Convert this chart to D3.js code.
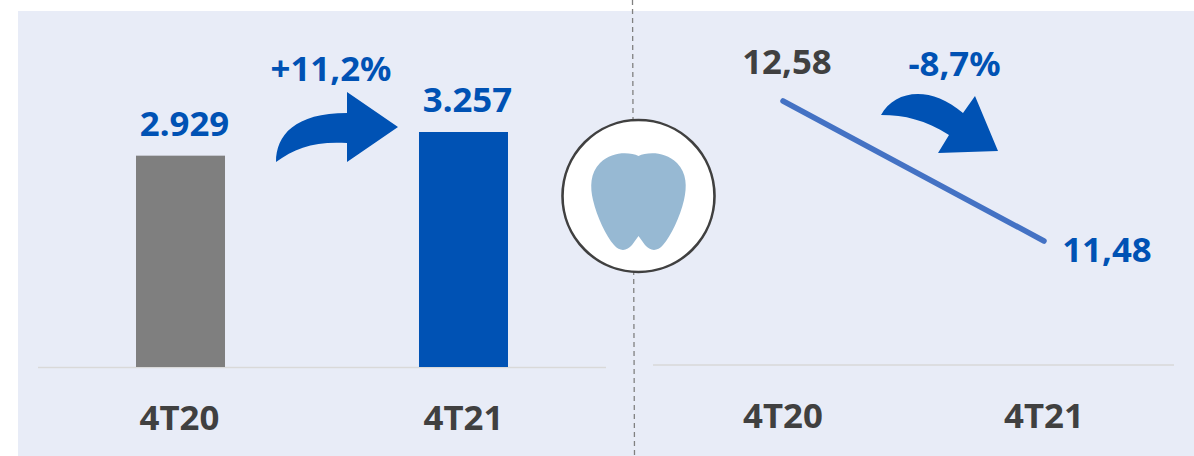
<!DOCTYPE html>
<html><head><meta charset="utf-8">
<script src="https://cdn.jsdelivr.net/npm/d3@7"></script>
<style>html,body{margin:0;padding:0;background:#fff}svg{display:block}text{font-family:"Noto Sans",sans-serif;font-weight:700}</style>
</head><body><div id="c"></div>
<script>
const periods=["4T20","4T21"];
const volume=[2929,3257];
const volumeLabels=["2.929","3.257"];
const ticket=[12.58,11.48];
const ticketLabels=["12,58","11,48"];
const changes=["+11,2%","-8,7%"];
const W=1194,H=456,BLUE="#0052b4",DARK="#404040",FS=34.8;
const svg=d3.select("#c").append("svg").attr("width",W).attr("height",H);
svg.append("rect").attr("x",18).attr("y",11).attr("width",W-18).attr("height",H-11).attr("fill","#e8ecf7");
svg.append("line").attr("x1",632.5).attr("y1",0).attr("x2",634.5).attr("y2",456).attr("stroke","#808080").attr("stroke-width",1.3).attr("stroke-dasharray","5 4");

// left chart
const x1=d3.scaleBand().domain(periods).range([39,605]).paddingInner(0.6855).paddingOuter(0.3428);
const y1=d3.scaleLinear().domain([0,3257]).range([367,132]);
svg.append("line").attr("x1",38).attr("x2",606).attr("y1",367.5).attr("y2",367.5).attr("stroke","#d9d9d9").attr("stroke-width",1.5);
svg.selectAll(".bar").data(periods).join("rect").attr("class","bar")
 .attr("x",d=>x1(d)).attr("width",x1.bandwidth())
 .attr("y",(d,i)=>y1(volume[i])).attr("height",(d,i)=>y1(0)-y1(volume[i]))
 .attr("fill",(d,i)=>i?BLUE:"#7f7f7f");
const mid1=d=>x1(d)+x1.bandwidth()/2;
function txt(x,y,s,fill){return svg.append("text").attr("x",x).attr("y",y).attr("text-anchor","middle").attr("font-size",FS).attr("fill",fill).text(s);}
periods.forEach((p,i)=>{
 txt(mid1(p)+4,i?112:136,volumeLabels[i],BLUE);
 txt(mid1(p)+(i?0:-1),430,p,DARK);
});

// right chart
const x2=d3.scalePoint().domain(periods).range([783,1044]);
const y2=d3.scaleLinear().domain([11.48,12.58]).range([241,101]);
svg.append("line").attr("x1",653).attr("x2",1174).attr("y1",365).attr("y2",365).attr("stroke","#d9d9d9").attr("stroke-width",1.5);
svg.append("path").attr("d",d3.line().x((d,i)=>x2(periods[i])).y(d=>y2(d))(ticket))
 .attr("fill","none").attr("stroke","#4472c4").attr("stroke-width",5.5).attr("stroke-linecap","round");
txt(787,74,ticketLabels[0],DARK);
txt(1107,262,ticketLabels[1],BLUE);
periods.forEach(p=>txt(x2(p),428,p,DARK));

// change labels and arrows
txt(331,81,changes[0],BLUE);
txt(954.5,76,changes[1],BLUE);
svg.append("path").attr("fill",BLUE).attr("d","M276,162 C276,135 295,113 347,113 L347,92 L398,127 L347,162 L347,143 C315,141 295,148 276,162 Z");
svg.append("path").attr("fill",BLUE).attr("d","M881,115 C895,90 930,85 963,113 L975,96 L998,151 L938,153 L949,135 C925,120 905,115 881,115 Z");

// badge
svg.append("circle").attr("cx",638.5).attr("cy",196).attr("r",76).attr("fill","#fff").attr("stroke",DARK).attr("stroke-width",2.6);
svg.append("path").attr("fill","#97b9d3").attr("d","M638.5,156 C630,152 612,151 600,163 C590,173 590,187 593,200 C597,217 606,236 614,245 C620,252 627,251 632,245 L638.5,236 L645,245 C650,251 657,252 663,245 C671,236 680,217 684,200 C687,187 687,173 677,163 C665,151 647,152 638.5,156 Z");
</script></body></html>
